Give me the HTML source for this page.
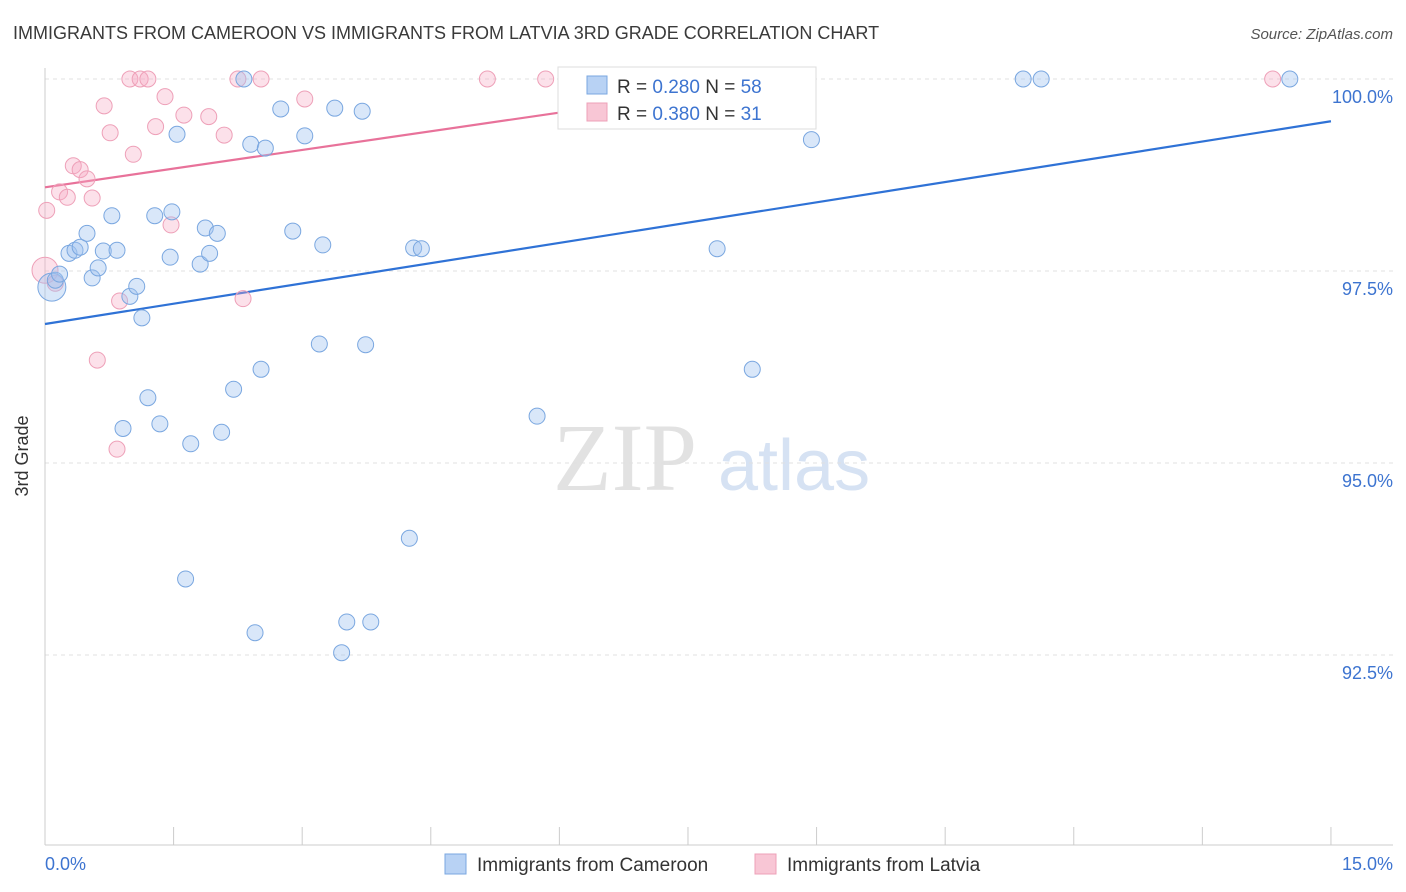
<!DOCTYPE html>
<html><head><meta charset="utf-8"><style>
body{margin:0;background:#fff;font-family:"Liberation Sans",sans-serif;}
svg{display:block}
</style></head><body>
<svg id="chart" width="1406" height="892" xmlns="http://www.w3.org/2000/svg">
<text x="13" y="39" font-size="18" fill="#3a3a3a">IMMIGRANTS FROM CAMEROON VS IMMIGRANTS FROM LATVIA 3RD GRADE CORRELATION CHART</text>
<text x="1393" y="39" font-size="15" fill="#555" font-style="italic" text-anchor="end">Source: ZipAtlas.com</text>
<g>
<text x="553" y="490" font-size="96" fill="#e2e2e2" font-family="Liberation Serif,serif">ZIP</text>
<text x="718" y="490" font-size="72" fill="#d6e2f3">atlas</text>
</g>
<g id="grid"></g>
<line x1="45" y1="68" x2="45" y2="845" stroke="#ccc"/>
<line x1="45" y1="845" x2="1393" y2="845" stroke="#ccc"/>
<g id="xticks"></g>
<text x="28" y="456" font-size="18" fill="#333" transform="rotate(-90 28 456)" text-anchor="middle">3rd Grade</text>
<g id="lines"></g>
<g id="points"></g>
<g>
<rect x="558" y="67" width="258" height="62" fill="#fff" stroke="#ddd"/>
<rect x="587" y="76" width="20" height="18" fill="#b8d2f4" stroke="#7aa7e0"/>
<rect x="587" y="103" width="20" height="18" fill="#f8c6d5" stroke="#eea0b8"/>
<text x="617" y="93" font-size="19" fill="#333">R = <tspan fill="#3d74d0">0.280</tspan>   N = <tspan fill="#3d74d0">58</tspan></text>
<text x="617" y="120" font-size="19" fill="#333">R = <tspan fill="#3d74d0">0.380</tspan>   N = <tspan fill="#3d74d0"> 31</tspan></text>
</g>
<text x="45" y="870" font-size="18" fill="#3d74d0">0.0%</text>
<text x="1393" y="870" font-size="18" fill="#3d74d0" text-anchor="end">15.0%</text>
<g>
<rect x="445" y="854" width="21" height="20" fill="#b8d2f4" stroke="#7aa7e0"/>
<text x="477" y="871" font-size="19" fill="#333">Immigrants from Cameroon</text>
<rect x="755" y="854" width="21" height="20" fill="#f8c6d5" stroke="#eea0b8"/>
<text x="787" y="871" font-size="19" fill="#333">Immigrants from Latvia</text>
</g>
</svg>
<script>
const yTicks=[100,97.5,95,92.5];
const yTickLabels=["100.0%","97.5%","95.0%","92.5%"];
const xTicks=[0,1.5,3,4.5,6,7.5,9,10.5,12,13.5,15];
const blueX=[0.08,0.12,0.17,0.28,0.35,0.41,0.49,0.55,0.62,0.68,0.78,0.84,0.91,0.99,1.07,1.13,1.20,1.28,1.34,1.46,1.48,1.54,1.64,1.70,1.81,1.87,1.92,2.01,2.06,2.20,2.32,2.40,2.45,2.52,2.57,2.75,2.89,3.03,3.20,3.24,3.38,3.46,3.52,3.70,3.74,3.80,4.25,4.30,4.39,5.74,7.84,8.25,8.94,11.41,11.62,14.52,6.71,8.63];
const blueY=[97.29,97.38,97.46,97.73,97.77,97.81,97.99,97.41,97.54,97.76,98.22,97.77,95.45,97.17,97.30,96.89,95.85,98.22,95.51,97.68,98.27,99.28,93.49,95.25,97.59,98.06,97.73,97.99,95.40,95.96,100,99.15,92.79,96.22,99.10,99.61,98.02,99.26,96.55,97.84,99.62,92.53,92.93,99.58,96.54,92.93,94.02,97.80,97.79,95.61,97.79,96.22,99.21,100,100,100,100,100];
const pinkX=[0,0.02,0.12,0.17,0.26,0.33,0.41,0.49,0.55,0.69,0.76,0.87,0.61,0.84,0.99,1.11,1.20,1.03,1.29,1.40,1.47,1.62,1.91,2.09,2.25,2.31,2.52,3.03,5.16,5.84,14.32];
const pinkY=[97.51,98.29,97.34,98.53,98.46,98.87,98.82,98.70,98.45,99.65,99.30,97.11,96.34,95.18,100,100,100,99.02,99.38,99.77,98.10,99.53,99.51,99.27,100,97.14,100,99.74,100,100,100];
const blueTrendX=[0,15], blueTrendY=[96.81,99.45];
const pinkTrendX=[0,8.7], pinkTrendY=[98.59,100.0];
const NS="http://www.w3.org/2000/svg";
const sx=v=>45+v*85.73, sy=v=>79+(100-v)*76.8;
function mk(tag,attrs,parent){const e=document.createElementNS(NS,tag);for(const k in attrs)e.setAttribute(k,attrs[k]);parent.appendChild(e);return e;}
const grid=document.getElementById('grid');
yTicks.forEach((t,i)=>{
 const l=mk('line',{x1:45,x2:1393,y1:sy(t),y2:sy(t),stroke:'#e0e0e0','stroke-dasharray':'4,4'},grid);
 
 
 const tx=mk('text',{x:1393,y:sy(t)+24,'font-size':18,fill:'#3d74d0','text-anchor':'end'},grid);
 tx.textContent=yTickLabels[i];
 
 
});
const xt=document.getElementById('xticks');
xTicks.forEach(t=>{
 const l=mk('line',{x1:sx(t),x2:sx(t),y1:827,y2:845,stroke:'#ccc'},xt);
 
 
});
const lines=document.getElementById('lines');
const bl=mk('line',{x1:sx(blueTrendX[0]),y1:sy(blueTrendY[0]),x2:sx(blueTrendX[1]),y2:sy(blueTrendY[1]),stroke:'#2f72d6','stroke-width':2.2},lines);


const pl=mk('line',{x1:sx(pinkTrendX[0]),y1:sy(pinkTrendY[0]),x2:sx(pinkTrendX[1]),y2:sy(pinkTrendY[1]),stroke:'#e8729a','stroke-width':2.2},lines);


const pts=document.getElementById('points');
pinkX.forEach((x,i)=>{
 const c=mk('circle',{cx:sx(x),cy:sy(pinkY[i]),r:i===0?13:8,fill:'rgba(245,170,195,0.35)',stroke:'#eea0b8','stroke-width':1},pts);
 
 
});
blueX.forEach((x,i)=>{
 const c=mk('circle',{cx:sx(x),cy:sy(blueY[i]),r:i===0?14:8,fill:'rgba(160,195,240,0.4)',stroke:'#7aa7e0','stroke-width':1},pts);
 
 
});
</script>
</body></html>
